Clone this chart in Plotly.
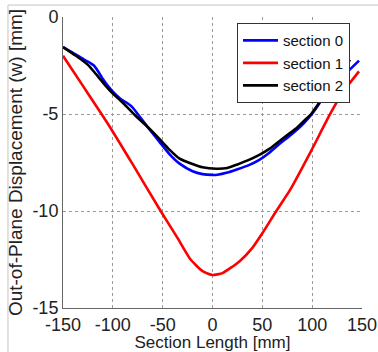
import plotly.graph_objects as go

# section 0 (blue)
x0 = [-150, -140, -132, -125, -119, -115, -110, -105, -100, -95, -91, -86, -81, -75, -64, -53, -43, -33, -20, -10, 0, 5, 15, 25, 36, 47, 57, 67, 76, 85, 92, 99, 106, 113, 122, 130, 139, 147]
y0 = [-1.55, -1.85, -2.1, -2.3, -2.5, -2.78, -3.2, -3.55, -3.85, -4.1, -4.27, -4.42, -4.62, -5.0, -5.74, -6.45, -7.08, -7.56, -7.95, -8.1, -8.14, -8.13, -8.02, -7.85, -7.65, -7.37, -7.0, -6.55, -6.18, -5.8, -5.45, -5.05, -4.55, -4.0, -3.55, -3.1, -2.65, -2.25]

# section 1 (red)
x1 = [-150, -130, -105, -80, -52, -35, -22, -10, 0, 10, 27, 40, 50, 64, 78, 99, 117, 130, 147]
y1 = [-2.0, -3.55, -5.5, -7.6, -10.0, -11.4, -12.5, -13.1, -13.3, -13.2, -12.6, -11.9, -11.15, -10.0, -8.9, -6.9, -5.1, -3.93, -2.8]

# section 2 (black)
x2 = [-150, -137, -125, -116, -108, -100, -91, -78, -64, -53, -43, -33, -20, -10, 4, 15, 25, 36, 47, 57, 67, 76, 85, 92, 99, 106, 113, 122, 130, 138]
y2 = [-1.55, -2.0, -2.47, -3.0, -3.5, -3.95, -4.37, -5.05, -5.72, -6.3, -6.85, -7.3, -7.58, -7.75, -7.82, -7.78, -7.6, -7.38, -7.11, -6.8, -6.4, -6.05, -5.7, -5.35, -5.0, -4.5, -3.95, -3.3, -2.75, -2.2]

names = ["section 0", "section 1", "section 2"]
colors = ["#0000ff", "#ff0000", "#000000"]

x_ticks = [-150, -100, -50, 0, 50, 100, 150]
y_ticks = [0, -5, -10, -15]

FONT = "Liberation Sans, Arial, sans-serif"

fig = go.Figure()
for xs, ys, nm, c in zip([x0, x1, x2], [y0, y1, y2], names, colors):
    fig.add_trace(go.Scatter(x=xs, y=ys, mode="lines", name=nm,
                             line=dict(color=c, width=2.6, shape="spline", smoothing=0.5)))

axis_common = dict(
    showgrid=True, gridcolor="#9a9a9a", griddash="dot", gridwidth=1,
    zeroline=False, showline=True, linecolor="#666666", linewidth=1,
    ticks="", tickfont=dict(family=FONT, size=18, color="#222222"),
)

fig.update_xaxes(range=[-150, 150], tickvals=x_ticks, ticktext=[str(v) for v in x_ticks],
                 title=dict(text="Section Length [mm]", font=dict(family=FONT, size=17, color="#222222"), standoff=3),
                 automargin=False, **axis_common)
fig.update_yaxes(range=[-15, 0], tickvals=y_ticks, ticktext=[str(v) for v in y_ticks],
                 title=dict(text="Out-of-Plane Displacement (w) [mm]", font=dict(family=FONT, size=19, color="#222222"), standoff=4),
                 automargin=False, **axis_common)

fig.update_layout(
    width=378, height=352,
    margin=dict(l=63, r=16, t=17, b=44),
    paper_bgcolor="white", plot_bgcolor="white",
    font=dict(family=FONT, size=17, color="#222222"),
    showlegend=True,
    legend=dict(x=0.582, y=0.979, xanchor="left", yanchor="top",
                bgcolor="white", bordercolor="#333333", borderwidth=1,
                font=dict(family=FONT, size=15, color="#111111"),
                itemwidth=35, tracegroupgap=0),
    shapes=[
        dict(type="line", xref="paper", yref="paper", x0=-0.184, x1=-0.184, y0=-0.16, y1=1.041,
             line=dict(color="#c4c4c4", width=1)),
        dict(type="line", xref="paper", yref="paper", x0=-0.184, x1=1.06, y0=1.041, y1=1.041,
             line=dict(color="#c4c4c4", width=1)),
    ],
)

fig.write_html("out.html")
